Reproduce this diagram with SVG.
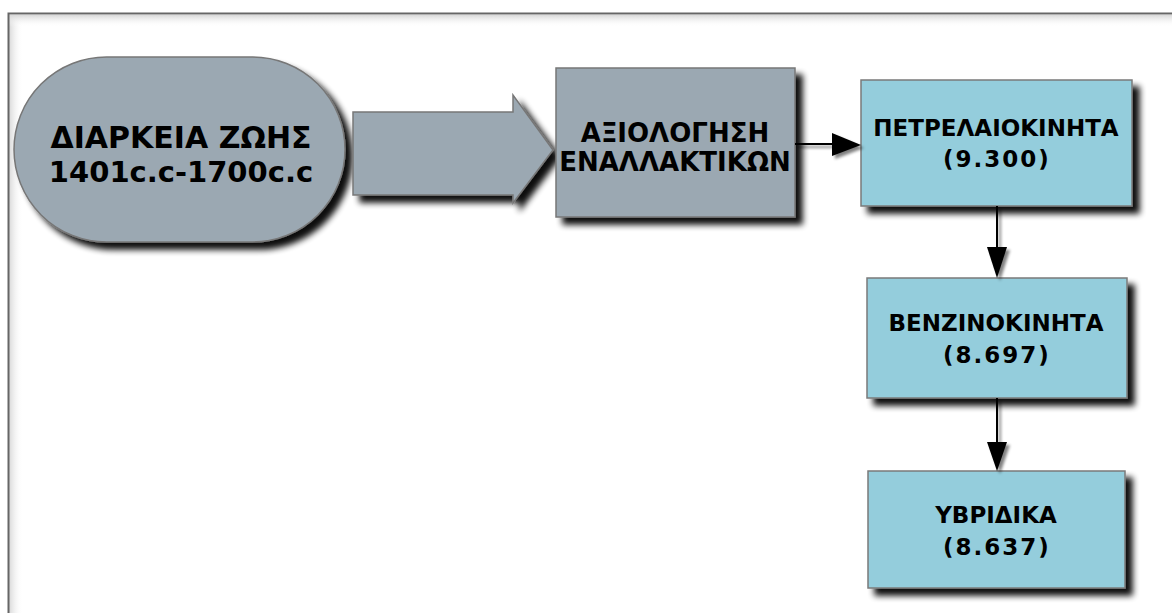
<svg xmlns="http://www.w3.org/2000/svg" width="1172" height="613" viewBox="0 0 1172 613">
<defs>
<filter id="sh" x="-20%" y="-20%" width="150%" height="150%">
<feGaussianBlur in="SourceAlpha" stdDeviation="3"/>
<feOffset dx="7" dy="7" result="b"/>
<feComponentTransfer in="b" result="c"><feFuncA type="linear" slope="0.95"/></feComponentTransfer>
<feMerge><feMergeNode in="c"/><feMergeNode in="SourceGraphic"/></feMerge>
</filter>
<filter id="shs" x="-50%" y="-50%" width="200%" height="200%">
<feGaussianBlur in="SourceAlpha" stdDeviation="1.5"/>
<feOffset dx="3" dy="3" result="b"/>
<feComponentTransfer in="b" result="c"><feFuncA type="linear" slope="0.5"/></feComponentTransfer>
<feMerge><feMergeNode in="c"/><feMergeNode in="SourceGraphic"/></feMerge>
</filter>
<linearGradient id="gl" x1="0" y1="0" x2="1" y2="0"><stop offset="0" stop-color="#d8d8d8"/><stop offset="1" stop-color="#ffffff" stop-opacity="0"/></linearGradient>
<linearGradient id="gt" x1="0" y1="0" x2="0" y2="1"><stop offset="0" stop-color="#d8d8d8"/><stop offset="1" stop-color="#ffffff" stop-opacity="0"/></linearGradient>
<style>
.gray{fill:#9ba8b2;stroke:#777;stroke-width:1.5}
.blue{fill:#94cddc;stroke:#7a7a7a;stroke-width:1.5}
.t{font-family:"DejaVu Sans",Verdana,sans-serif;font-weight:bold;fill:#000;text-anchor:middle}
.b{font-size:23px}
.n{font-size:23px;letter-spacing:2px}
.ln{stroke:#000;stroke-width:2;fill:none}
</style>
</defs>
<rect width="1172" height="613" fill="#fff"/>
<g id="frame">
<rect x="9" y="15" width="14" height="598" fill="url(#gl)"/>
<rect x="9" y="15" width="1163" height="12" fill="url(#gt)"/>
<path d="M8.5 613 V13.5 H1172" fill="none" stroke="#666" stroke-width="2"/>
</g>
<g id="pill">
<rect x="14" y="57" width="331" height="185" rx="92.5" class="gray" filter="url(#sh)"/>
<text class="t" x="181" y="148" font-size="30">ΔΙΑΡΚΕΙΑ ΖΩΗΣ</text>
<text class="t" x="181" y="182" font-size="29">1401c.c-1700c.c</text>
</g>
<g id="bigarrow">
<path d="M353 112 H513 V95 L553 150 L513 203 V195 H353 Z" class="gray" filter="url(#sh)"/>
</g>
<g id="eval">
<rect x="556" y="68" width="239" height="149" class="gray" filter="url(#sh)"/>
<text class="t" x="675" y="142" font-size="26">ΑΞΙΟΛΟΓΗΣΗ</text>
<text class="t" x="675" y="171" font-size="26">ΕΝΑΛΛΑΚΤΙΚΩΝ</text>
</g>
<g id="diesel">
<rect x="861" y="80" width="271" height="126" class="blue" filter="url(#sh)"/>
<text class="t b" x="996" y="136">ΠΕΤΡΕΛΑΙΟΚΙΝΗΤΑ</text>
<text class="t n" x="997" y="167">(9.300)</text>
</g>
<g id="petrol">
<rect x="867" y="278" width="260" height="120" class="blue" filter="url(#sh)"/>
<text class="t b" x="996" y="331">ΒΕΝΖΙΝΟΚΙΝΗΤΑ</text>
<text class="t n" x="997" y="363">(8.697)</text>
</g>
<g id="hybrid">
<rect x="868" y="471" width="257" height="117" class="blue" filter="url(#sh)"/>
<text class="t b" x="996" y="523">ΥΒΡΙΔΙΚΑ</text>
<text class="t n" x="997" y="555">(8.637)</text>
</g>
<g id="connectors" filter="url(#shs)">
<line x1="795" y1="144" x2="834" y2="144" class="ln"/>
<path d="M832 133 L861 145 L832 156 Z" fill="#000"/>
<line x1="997" y1="206" x2="997" y2="249" class="ln"/>
<path d="M987 247 L1007 247 L997 278 Z" fill="#000"/>
<line x1="997" y1="398" x2="997" y2="444" class="ln"/>
<path d="M987 442 L1007 442 L997 471 Z" fill="#000"/>
</g>
</svg>
